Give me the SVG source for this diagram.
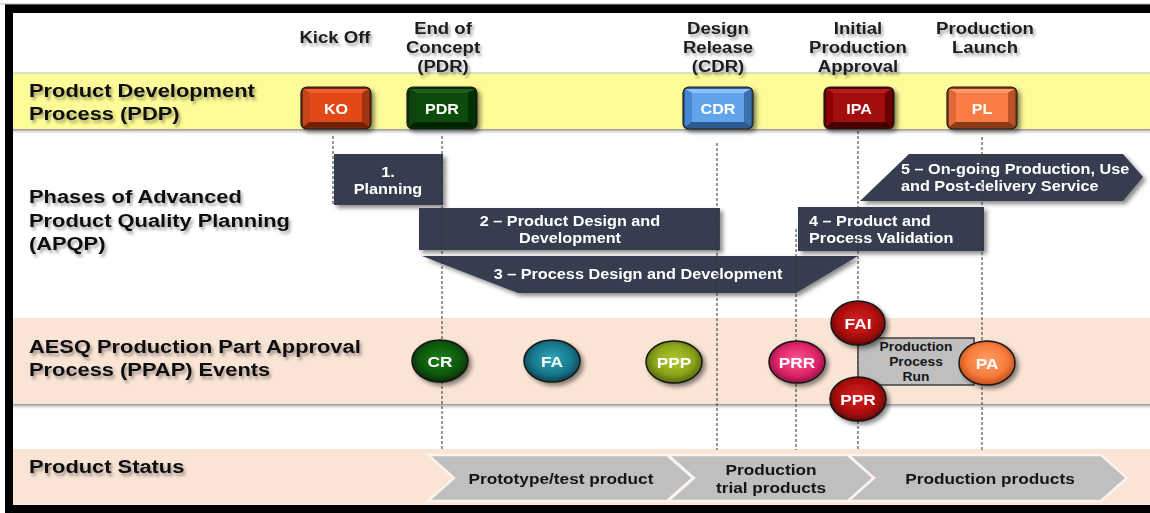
<svg xmlns="http://www.w3.org/2000/svg" width="1150" height="513" viewBox="0 0 1150 513">
<defs>
<style>
text{font-family:"Liberation Sans",Arial,sans-serif;font-weight:bold}
.hdr{font-size:16px;fill:#1e1e1e;text-anchor:middle}
.lbl{font-size:19px;fill:#111}
.ph{fill:#343e50}
.pht{font-size:14px;fill:#fff}
.mid{text-anchor:middle}
.btn{font-size:14px;fill:#fff;text-anchor:middle}
.ev{font-size:15px;fill:#fff;text-anchor:middle}
.evo{stroke:#151515;stroke-width:1.5}
.dash{stroke:#333;stroke-width:1;stroke-dasharray:3 2;fill:none}
.chev{fill:#bfbfbf;stroke:#fdf3ec;stroke-width:2.5}
.cht{font-size:15px;fill:#151515;text-anchor:middle}
.bo{stroke:#1e1e1e;stroke-width:1.2}
</style>
<filter id="ts" x="-10%" y="-30%" width="130%" height="170%"><feDropShadow dx="2" dy="3" stdDeviation="1.6" flood-color="#000" flood-opacity="0.35"/></filter>
<filter id="sh" x="-10%" y="-20%" width="130%" height="160%"><feDropShadow dx="3" dy="3" stdDeviation="2" flood-color="#000" flood-opacity="0.45"/></filter>
<linearGradient id="bandsh" x1="0" y1="0" x2="0" y2="1"><stop offset="0" stop-color="#8c8c8c"/><stop offset="1" stop-color="#fff" stop-opacity="0"/></linearGradient>
<radialGradient id="gCR" cx="50%" cy="45%" r="55%"><stop offset="0" stop-color="#1d7d1d"/><stop offset="0.65" stop-color="#0d5a0d"/><stop offset="1" stop-color="#042c04"/></radialGradient>
<radialGradient id="gFA" cx="50%" cy="45%" r="55%"><stop offset="0" stop-color="#2ea6ba"/><stop offset="0.65" stop-color="#17788c"/><stop offset="1" stop-color="#0b4654"/></radialGradient>
<radialGradient id="gPPP" cx="50%" cy="45%" r="55%"><stop offset="0" stop-color="#b2cc30"/><stop offset="0.65" stop-color="#8aa31a"/><stop offset="1" stop-color="#546808"/></radialGradient>
<radialGradient id="gPRR" cx="50%" cy="45%" r="55%"><stop offset="0" stop-color="#f75a90"/><stop offset="0.65" stop-color="#e0246a"/><stop offset="1" stop-color="#961046"/></radialGradient>
<radialGradient id="gRED" cx="50%" cy="45%" r="55%"><stop offset="0" stop-color="#d42222"/><stop offset="0.65" stop-color="#b00e0e"/><stop offset="1" stop-color="#650404"/></radialGradient>
<radialGradient id="gPA" cx="50%" cy="45%" r="55%"><stop offset="0" stop-color="#ffa06a"/><stop offset="0.65" stop-color="#f77c3c"/><stop offset="1" stop-color="#c44e18"/></radialGradient>
</defs>

<!-- frame and background -->
<rect x="0" y="0" width="1150" height="513" fill="#fff"/>
<rect x="5" y="4" width="1145" height="509" fill="#000"/>
<line x1="0" y1="4" x2="1150" y2="4" stroke="#b5b5b5" stroke-width="1"/>
<rect x="13" y="13" width="1137" height="492" fill="#fff"/>

<!-- bands -->
<g id="bands">
<rect x="13" y="73" width="1137" height="56" fill="#fdfc98"/>
<line x1="13" y1="73" x2="1150" y2="73" stroke="#bdbdb0" stroke-width="1"/>
<rect x="13" y="129" width="1137" height="6" fill="url(#bandsh)"/>
<rect x="13" y="318" width="1137" height="86" fill="#fae4d6"/>
<rect x="13" y="404" width="1137" height="6" fill="url(#bandsh)"/>
<rect x="13" y="449" width="1137" height="56" fill="#fae4d6"/>
</g>

<!-- header labels -->
<g id="milestone-labels" filter="url(#ts)">
<text class="hdr" transform="matrix(1.16 0 0 1 335 43)">Kick Off</text>
<text class="hdr" transform="matrix(1.16 0 0 1 443 0)"><tspan x="0" y="34">End of</tspan><tspan x="0" y="53">Concept</tspan><tspan x="0" y="72">(PDR)</tspan></text>
<text class="hdr" transform="matrix(1.16 0 0 1 718 0)"><tspan x="0" y="34">Design</tspan><tspan x="0" y="53">Release</tspan><tspan x="0" y="72">(CDR)</tspan></text>
<text class="hdr" transform="matrix(1.16 0 0 1 858 0)"><tspan x="0" y="34">Initial</tspan><tspan x="0" y="53">Production</tspan><tspan x="0" y="72">Approval</tspan></text>
<text class="hdr" transform="matrix(1.16 0 0 1 985 0)"><tspan x="0" y="34">Production</tspan><tspan x="0" y="53">Launch</tspan></text>
</g>

<!-- row labels -->
<g id="row-labels" filter="url(#ts)">
<text class="lbl" transform="matrix(1.15 0 0 1 29 0)"><tspan x="0" y="97">Product Development</tspan><tspan x="0" y="120">Process (PDP)</tspan></text>
<text class="lbl" transform="matrix(1.15 0 0 1 29 0)"><tspan x="0" y="203">Phases of Advanced</tspan><tspan x="0" y="227">Product Quality Planning</tspan><tspan x="0" y="250">(APQP)</tspan></text>
<text class="lbl" transform="matrix(1.15 0 0 1 29 0)"><tspan x="0" y="353">AESQ Production Part Approval</tspan><tspan x="0" y="376">Process (PPAP) Events</tspan></text>
<text class="lbl" transform="matrix(1.15 0 0 1 29 473)">Product Status</text>
</g>

<!-- APQP phases -->
<g id="phase1" filter="url(#sh)">
<rect class="ph" x="334" y="154" width="109" height="51"/>
<text class="pht mid" transform="matrix(1.16 0 0 1 388 0)"><tspan x="0" y="177">1.</tspan><tspan x="0" y="194">Planning</tspan></text>
</g>
<g id="phase2" filter="url(#sh)">
<rect class="ph" x="419" y="208" width="301" height="42"/>
<text class="pht mid" transform="matrix(1.16 0 0 1 570 0)"><tspan x="0" y="226">2 – Product Design and</tspan><tspan x="0" y="243">Development</tspan></text>
</g>
<g id="phase3" filter="url(#sh)">
<polygon class="ph" points="422,256 858,256 796,293 518,293"/>
<text class="pht mid" transform="matrix(1.16 0 0 1 638 279)">3 – Process Design and Development</text>
</g>
<g id="phase4" filter="url(#sh)">
<rect class="ph" x="798" y="207" width="186" height="44"/>
<text class="pht" transform="matrix(1.16 0 0 1 809 0)"><tspan x="0" y="226">4 – Product and</tspan><tspan x="0" y="243">Process Validation</tspan></text>
</g>
<g id="phase5" filter="url(#sh)">
<polygon class="ph" points="909,154 1123,154 1143,177 1123,201 860,201"/>
<text class="pht" transform="matrix(1.16 0 0 1 901 0)"><tspan x="0" y="174">5 – On-going Production, Use</tspan><tspan x="0" y="191">and Post-delivery Service</tspan></text>
</g>

<!-- connectors: dashed milestone lines -->
<g id="connectors">
<line class="dash" x1="333" y1="136" x2="333" y2="205"/>
<line class="dash" x1="442" y1="136" x2="442" y2="450"/>
<line class="dash" x1="717" y1="143" x2="717" y2="450"/>
<line class="dash" x1="796" y1="229" x2="796" y2="450"/>
<line class="dash" x1="858" y1="131" x2="858" y2="450"/>
<line class="dash" x1="982" y1="137" x2="982" y2="450"/>
</g>

<!-- PDP buttons -->
<g id="KO" transform="translate(301 87)" filter="url(#sh)">
<rect class="bo" x="0" y="0" width="70" height="42" rx="6" fill="#7a2608"/>
<polygon points="2,2 68,2 61,6 9,6" fill="#ea6230"/>
<polygon points="2,2 9,6 9,35 2,40" fill="#c8441a"/>
<polygon points="68,2 61,6 61,35 68,40" fill="#a2360f"/>
<polygon points="2,40 9,35 61,35 68,40" fill="#6e2106"/>
<rect x="9" y="6" width="52" height="29" fill="#e24a18"/>
<text class="btn" transform="matrix(1.15 0 0 1 35 27)">KO</text>
</g>
<g id="PDR" transform="translate(407 87)" filter="url(#sh)">
<rect class="bo" x="0" y="0" width="70" height="42" rx="6" fill="#042a04"/>
<polygon points="2,2 68,2 61,6 9,6" fill="#1a5e1a"/>
<polygon points="2,2 9,6 9,35 2,40" fill="#0a420a"/>
<polygon points="68,2 61,6 61,35 68,40" fill="#063206"/>
<polygon points="2,40 9,35 61,35 68,40" fill="#032003"/>
<rect x="9" y="6" width="52" height="29" fill="#0a4c0a"/>
<text class="btn" transform="matrix(1.15 0 0 1 35 27)">PDR</text>
</g>
<g id="CDR" transform="translate(683 87)" filter="url(#sh)">
<rect class="bo" x="0" y="0" width="70" height="42" rx="6" fill="#2d5a90"/>
<polygon points="2,2 68,2 61,6 9,6" fill="#8ec0f5"/>
<polygon points="2,2 9,6 9,35 2,40" fill="#4a88cf"/>
<polygon points="68,2 61,6 61,35 68,40" fill="#3b6fae"/>
<polygon points="2,40 9,35 61,35 68,40" fill="#2d5a90"/>
<rect x="9" y="6" width="52" height="29" fill="#62a4ec"/>
<text class="btn" transform="matrix(1.15 0 0 1 35 27)">CDR</text>
</g>
<g id="IPA" transform="translate(824 87)" filter="url(#sh)">
<rect class="bo" x="0" y="0" width="70" height="42" rx="6" fill="#4a0000"/>
<polygon points="2,2 68,2 61,6 9,6" fill="#b81a1a"/>
<polygon points="2,2 9,6 9,35 2,40" fill="#8a0404"/>
<polygon points="68,2 61,6 61,35 68,40" fill="#6a0202"/>
<polygon points="2,40 9,35 61,35 68,40" fill="#420000"/>
<rect x="9" y="6" width="52" height="29" fill="#a40808"/>
<text class="btn" transform="matrix(1.15 0 0 1 35 27)">IPA</text>
</g>
<g id="PL" transform="translate(947 87)" filter="url(#sh)">
<rect class="bo" x="0" y="0" width="70" height="42" rx="6" fill="#8a3a14"/>
<polygon points="2,2 68,2 61,6 9,6" fill="#ff9a68"/>
<polygon points="2,2 9,6 9,35 2,40" fill="#e0693a"/>
<polygon points="68,2 61,6 61,35 68,40" fill="#b85228"/>
<polygon points="2,40 9,35 61,35 68,40" fill="#8a3a14"/>
<rect x="9" y="6" width="52" height="29" fill="#f97c44"/>
<text class="btn" transform="matrix(1.15 0 0 1 35 27)">PL</text>
</g>

<!-- PPAP events -->
<g id="PPR-run">
<rect x="858" y="338" width="116" height="47" fill="#bfbfbf" stroke="#404040" stroke-width="1.5"/>
<text font-size="12" fill="#151515" text-anchor="middle" transform="matrix(1.15 0 0 1 916 0)"><tspan x="0" y="351">Production</tspan><tspan x="0" y="366">Process</tspan><tspan x="0" y="381">Run</tspan></text>
</g>
<g id="CR" filter="url(#sh)"><ellipse class="evo" cx="440" cy="361" rx="28" ry="21" fill="url(#gCR)"/><text class="ev" transform="matrix(1.15 0 0 1 440 367)">CR</text></g>
<g id="FA" filter="url(#sh)"><ellipse class="evo" cx="552" cy="361" rx="28" ry="21" fill="url(#gFA)" stroke="#0b4654"/><text class="ev" transform="matrix(1.15 0 0 1 552 367)">FA</text></g>
<g id="PPP" filter="url(#sh)"><ellipse class="evo" cx="674" cy="362" rx="28" ry="21" fill="url(#gPPP)" stroke="#546808"/><text class="ev" transform="matrix(1.15 0 0 1 674 368)">PPP</text></g>
<g id="PRR" filter="url(#sh)"><ellipse class="evo" cx="797" cy="362" rx="28" ry="21" fill="url(#gPRR)" stroke="#961046"/><text class="ev" transform="matrix(1.15 0 0 1 797 368)">PRR</text></g>
<g id="FAI" filter="url(#sh)"><ellipse class="evo" cx="858" cy="323" rx="27" ry="22" fill="url(#gRED)"/><text class="ev" transform="matrix(1.15 0 0 1 858 329)">FAI</text></g>
<g id="PPR" filter="url(#sh)"><ellipse class="evo" cx="858" cy="399" rx="28" ry="22" fill="url(#gRED)"/><text class="ev" transform="matrix(1.15 0 0 1 858 405)">PPR</text></g>
<g id="PA" filter="url(#sh)"><ellipse class="evo" cx="987" cy="363" rx="28" ry="22" fill="url(#gPA)"/><text class="ev" transform="matrix(1.15 0 0 1 987 369)">PA</text></g>

<!-- product status chevrons -->
<g id="status-prototype">
<polygon class="chev" points="428,455 667,455 693,478 667,501 428,501 454,478"/>
<text class="cht" transform="matrix(1.15 0 0 1 561 484)">Prototype/test product</text>
</g>
<g id="status-trial">
<polygon class="chev" points="668,455 848,455 874,478 848,501 668,501 694,478"/>
<text class="cht" transform="matrix(1.15 0 0 1 771 0)"><tspan x="0" y="475">Production</tspan><tspan x="0" y="493">trial products</tspan></text>
</g>
<g id="status-production">
<polygon class="chev" points="848,455 1101,455 1127,478 1101,501 848,501 874,478"/>
<text class="cht" transform="matrix(1.15 0 0 1 990 484)">Production products</text>
</g>
</svg>
